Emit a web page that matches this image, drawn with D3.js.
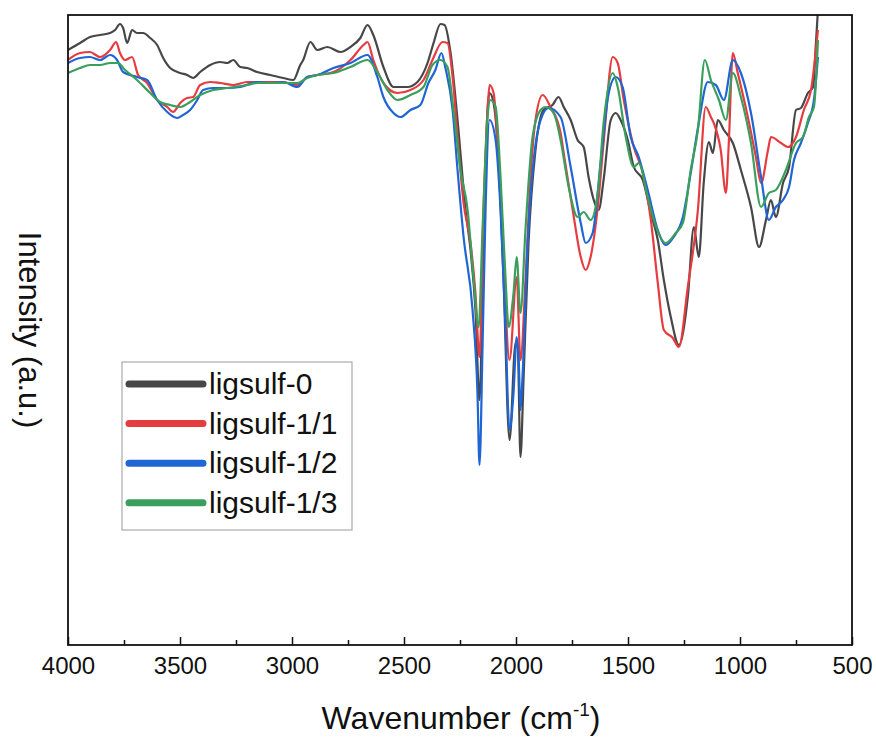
<!DOCTYPE html>
<html>
<head>
	<meta charset='utf-8'>
	<style>
		body { margin: 0; background: #fff; }
		svg { display: block; font-family: 'Liberation Sans', Arial, sans-serif; }
	</style>
</head>
<body>
	<svg></svg>
	<script src="https://d3js.org/d3.v7.min.js"></script>
	<script>
		// spectra: [wavenumber, intensity (a.u.)]
		var ligsulf0 = [[4000,595],[3946,602],[3902,608],[3857,610],[3812,612],[3790,615],[3768,621],[3754,617],[3736,602],[3714,615],[3692,612],[3665,612],[3633,607],[3602,600],[3575,587],[3544,577],[3499,572],[3468,570],[3441,567],[3410,573],[3365,580],[3321,583],[3289,582],[3262,585],[3231,578],[3200,577],[3155,573],[3097,570],[3039,567],[2994,565],[2963,580],[2950,585],[2918,603],[2887,595],[2842,598],[2784,593],[2739,598],[2695,607],[2663,620],[2637,610],[2592,578],[2547,558],[2485,558],[2440,563],[2395,582],[2368,602],[2337,621],[2319,620],[2292,592],[2261,525],[2225,435],[2203,395],[2181,335],[2163,245],[2145,402],[2127,535],[2118,552],[2100,542],[2078,485],[2056,368],[2029,205],[2002,302],[1993,302],[1980,188],[1966,268],[1944,402],[1913,495],[1877,535],[1837,540],[1810,548],[1787,538],[1756,525],[1725,505],[1698,498],[1676,468],[1653,445],[1631,435],[1609,465],[1577,525],[1555,532],[1533,525],[1501,505],[1474,478],[1434,465],[1398,432],[1367,405],[1340,365],[1309,328],[1273,300],[1233,348],[1206,418],[1184,388],[1162,462],[1139,503],[1121,492],[1099,525],[1072,515],[1032,502],[996,475],[951,438],[915,398],[884,425],[862,445],[840,428],[808,462],[781,478],[750,535],[728,537],[697,552],[674,558],[661,602],[652,635]];
		var ligsulf11 = [[4000,585],[3946,592],[3902,593],[3857,588],[3812,595],[3785,603],[3768,592],[3745,585],[3714,588],[3687,570],[3647,562],[3602,545],[3557,538],[3531,533],[3499,542],[3468,547],[3441,548],[3410,560],[3365,563],[3321,562],[3262,560],[3200,563],[3155,563],[3097,563],[3039,563],[2976,560],[2932,568],[2887,570],[2815,573],[2739,585],[2681,600],[2663,603],[2637,585],[2592,562],[2529,552],[2471,555],[2413,565],[2373,585],[2328,603],[2306,602],[2283,568],[2261,508],[2234,442],[2203,402],[2181,352],[2163,288],[2145,435],[2127,535],[2118,560],[2100,552],[2078,485],[2056,385],[2029,285],[1997,368],[1980,285],[1957,368],[1935,468],[1913,525],[1881,550],[1846,538],[1801,512],[1787,492],[1742,428],[1711,388],[1689,375],[1667,388],[1635,438],[1609,502],[1568,588],[1546,582],[1519,545],[1474,498],[1434,472],[1398,425],[1367,362],[1340,315],[1300,307],[1273,298],[1233,358],[1188,435],[1153,538],[1130,528],[1117,522],[1086,495],[1063,452],[1050,502],[1032,592],[1010,572],[965,528],[929,488],[906,462],[875,495],[862,508],[817,502],[786,498],[750,508],[715,535],[683,555],[661,595],[652,615]];
		var ligsulf12 = [[4000,582],[3946,587],[3902,588],[3857,585],[3812,590],[3781,585],[3754,573],[3692,568],[3647,565],[3602,545],[3557,533],[3513,527],[3486,530],[3455,535],[3423,545],[3397,555],[3352,557],[3289,557],[3231,558],[3155,563],[3097,562],[3039,563],[2976,558],[2932,568],[2887,570],[2815,577],[2739,582],[2663,590],[2619,568],[2592,548],[2547,532],[2516,528],[2471,535],[2427,540],[2391,562],[2360,575],[2333,592],[2315,577],[2283,535],[2261,475],[2234,408],[2194,335],[2172,252],[2163,180],[2149,302],[2136,435],[2118,525],[2091,505],[2069,435],[2047,318],[2029,215],[2011,252],[1997,308],[1988,285],[1980,235],[1971,268],[1948,402],[1921,485],[1890,525],[1854,537],[1801,528],[1756,478],[1711,422],[1689,402],[1658,412],[1622,482],[1586,552],[1555,568],[1524,558],[1488,508],[1452,488],[1412,455],[1367,415],[1331,400],[1296,408],[1255,428],[1220,472],[1184,522],[1144,563],[1108,560],[1072,545],[1032,585],[996,572],[951,532],[906,468],[871,425],[840,438],[808,445],[781,458],[759,485],[728,502],[697,522],[670,545],[652,588]];
		var ligsulf13 = [[4000,572],[3946,577],[3902,580],[3857,580],[3812,582],[3777,582],[3745,575],[3692,565],[3633,552],[3589,543],[3544,540],[3499,538],[3455,543],[3410,550],[3352,555],[3289,557],[3200,560],[3155,562],[3097,562],[3039,562],[2976,562],[2932,567],[2887,570],[2815,572],[2739,578],[2663,585],[2619,573],[2574,555],[2529,545],[2471,550],[2413,558],[2373,580],[2337,585],[2306,578],[2279,535],[2248,475],[2216,435],[2190,368],[2167,318],[2149,418],[2127,528],[2114,545],[2091,538],[2069,468],[2047,368],[2033,318],[2011,352],[1997,388],[1980,332],[1957,418],[1926,508],[1890,535],[1868,538],[1832,532],[1801,505],[1765,458],[1725,428],[1698,433],[1667,425],[1635,452],[1609,522],[1568,572],[1546,558],[1510,508],[1474,478],[1452,482],[1412,448],[1385,425],[1331,402],[1287,412],[1255,422],[1220,475],[1188,515],[1157,585],[1130,565],[1094,545],[1063,525],[1032,572],[996,548],[951,502],[906,438],[871,452],[840,455],[795,475],[750,502],[719,508],[692,528],[670,538],[652,605]];

		var seriesNames = ['ligsulf-0', 'ligsulf-1/1', 'ligsulf-1/2', 'ligsulf-1/3'];
		var seriesData = [ligsulf0, ligsulf11, ligsulf12, ligsulf13];
		var seriesColors = ['#474747', '#e63c40', '#1f65d4', '#3a9f5d'];
		var xTicks = [4000, 3500, 3000, 2500, 2000, 1500, 1000, 500];
		var xMinorTicks = [3750, 3250, 2750, 2250, 1750, 1250, 750];

		var svg_width = 876, svg_height = 743;
		var plotLeft = 68, plotRight = 852, plotTop = 15, plotBottom = 645;

		var svg = d3.select('svg').attr('width', svg_width).attr('height', svg_height);

		var x_scale = d3.scaleLinear().domain([4000, 500]).range([plotLeft, plotRight]);
		var y_scale = d3.scaleLinear().domain([0, 630]).range([plotBottom, plotTop]);

		svg.append('clipPath').attr('id', 'plot-clip')
			.append('rect').attr('x', plotLeft).attr('y', plotTop).attr('width', plotRight - plotLeft).attr('height', plotBottom - plotTop);

		var line = d3.line().x(d => x_scale(d[0])).y(d => y_scale(d[1])).curve(d3.curveMonotoneX);

		var curves = svg.append('g').attr('clip-path', 'url(#plot-clip)');
		seriesData.forEach(function (s, i) {
			curves.append('path').datum(s)
				.attr('d', line)
				.attr('fill', 'none')
				.attr('stroke', seriesColors[i])
				.attr('stroke-width', 2.2)
				.attr('stroke-linejoin', 'round');
		});

		// x axis with inward ticks
		var x_axis = d3.axisBottom(x_scale).tickValues(xTicks).tickSize(-8).tickPadding(10).tickFormat(d3.format('d'));
		var gx = svg.append('g').attr('transform', 'translate(0,' + plotBottom + ')').call(x_axis);
		gx.select('.domain').remove();
		gx.selectAll('text').attr('font-size', 24).attr('fill', '#111').attr('font-family', "'Liberation Sans', Arial, sans-serif").attr('y', 12);
		gx.selectAll('.tick line').attr('stroke', '#111').attr('stroke-width', 1.5);

		var x_minor = d3.axisBottom(x_scale).tickValues(xMinorTicks).tickSize(-5).tickFormat('');
		var gm = svg.append('g').attr('transform', 'translate(0,' + plotBottom + ')').call(x_minor);
		gm.select('.domain').remove();
		gm.selectAll('.tick line').attr('stroke', '#111').attr('stroke-width', 1.5);

		// frame
		svg.append('rect').attr('x', plotLeft).attr('y', plotTop).attr('width', plotRight - plotLeft).attr('height', plotBottom - plotTop)
			.attr('fill', 'none').attr('stroke', '#111').attr('stroke-width', 1.8);

		// axis titles
		var xt = svg.append('text').attr('x', 461).attr('y', 729)
			.attr('text-anchor', 'middle').attr('font-size', 32).attr('fill', '#111');
		xt.append('tspan').text('Wavenumber (cm');
		xt.append('tspan').attr('font-size', 19).attr('dy', -13).text('-1');
		xt.append('tspan').attr('dy', 13).text(')');

		svg.append('text').attr('transform', 'translate(19,' + ((plotTop + plotBottom) / 2) + ') rotate(90)')
			.attr('text-anchor', 'middle').attr('font-size', 31).attr('fill', '#111').text('Intensity (a.u.)');

		// legend
		var lg = svg.append('g');
		lg.append('rect').attr('x', 122).attr('y', 362).attr('width', 230).attr('height', 168)
			.attr('fill', '#fff').attr('stroke', '#999').attr('stroke-width', 1);
		seriesNames.forEach(function (n, i) {
			var cy = 384 + i * 39.6;
			lg.append('line').attr('x1', 129).attr('x2', 203).attr('y1', cy).attr('y2', cy)
				.attr('stroke', seriesColors[i]).attr('stroke-width', 7).attr('stroke-linecap', 'round');
			lg.append('text').attr('x', 209).attr('y', cy + 10).attr('font-size', 30).attr('fill', '#111').text(n);
		});
	</script>
</body>
</html>
